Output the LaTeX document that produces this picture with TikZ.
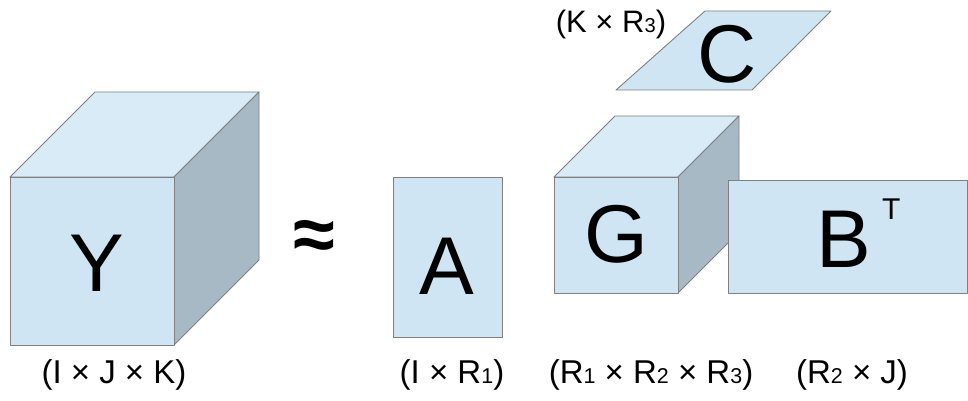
\documentclass[tikz,border=0pt]{standalone}
\usepackage{fontspec}
\setmainfont{Liberation Sans}
\usetikzlibrary{positioning}

\definecolor{facefront}{HTML}{CFE5F3}
\definecolor{facetop}{HTML}{D8EBF6}
\definecolor{faceside}{HTML}{A7B9C5}
\definecolor{edgegray}{HTML}{808080}

\newcommand{\sbs}[1]{\scalebox{0.65}{#1}}

\begin{document}
\begin{tikzpicture}[
  x=1pt, y=-1pt,
  front/.style={fill=facefront, draw=edgegray, line width=0.9pt, line join=round},
  top/.style={fill=facetop, draw=edgegray, line width=0.9pt, line join=round},
  side/.style={fill=faceside, draw=edgegray, line width=0.9pt, line join=round},
  big/.style={font=\fontsize{82}{82}\selectfont, inner sep=0pt, anchor=base},
  dims/.style={font=\fontsize{33}{33}\selectfont, inner sep=0pt, anchor=base},
]
  \useasboundingbox (0,0) rectangle (968,401);

  % Y (I x J x K)
  \draw[top]  (10,177) -- (95,92) -- (259,92) -- (174,177) -- cycle;
  \draw[side] (174,177) -- (259,92) -- (259,260) -- (174,345) -- cycle;
  \draw[front] (10,177) rectangle (174,345);
  \node[big] (y) at (97,291) {Y};
  \node[dims] (ydim) at (114,383) {(I × J × K)};

  \node[font=\fontsize{76}{76}\selectfont\bfseries, inner sep=0pt] (approx) at (314,240) {≈};

  % A
  \draw[front] (393,177) rectangle (502,337);
  \node[big] (a) at (447,294) {A};
  \node[dims] (adim) at (452,383) {(I × R\sbs{1})};

  % C
  \draw[front] (616,90) -- (705,11) -- (831,11) -- (752,90) -- cycle;
  \node[big] (c) at (727,83) {C};
  \node[dims, font=\fontsize{31}{31}\selectfont] (cdim) at (611,33) {(K × R\sbs{3})};

  % G core tensor
  \draw[top]  (554,177) -- (615,116) -- (739,116) -- (678,177) -- cycle;
  \draw[side] (678,177) -- (739,116) -- (739,232) -- (678,293) -- cycle;
  \draw[front] (554,177) rectangle (678,293);
  \node[big] (g) at (616,262) {G};
  \node[dims] (gdim) at (651,383) {(R\sbs{1} × R\sbs{2} × R\sbs{3})};

  % B^T
  \draw[front] (728,180) rectangle (967,293);
  \node[big] (b) at (844,267) {B};
  \node[font=\fontsize{30}{30}\selectfont, inner sep=0pt, anchor=base west]
    (bt) at (882,219) {T};
  \node[dims] (bdim) at (852,383) {(R\sbs{2} × J)};
\end{tikzpicture}
\end{document}
